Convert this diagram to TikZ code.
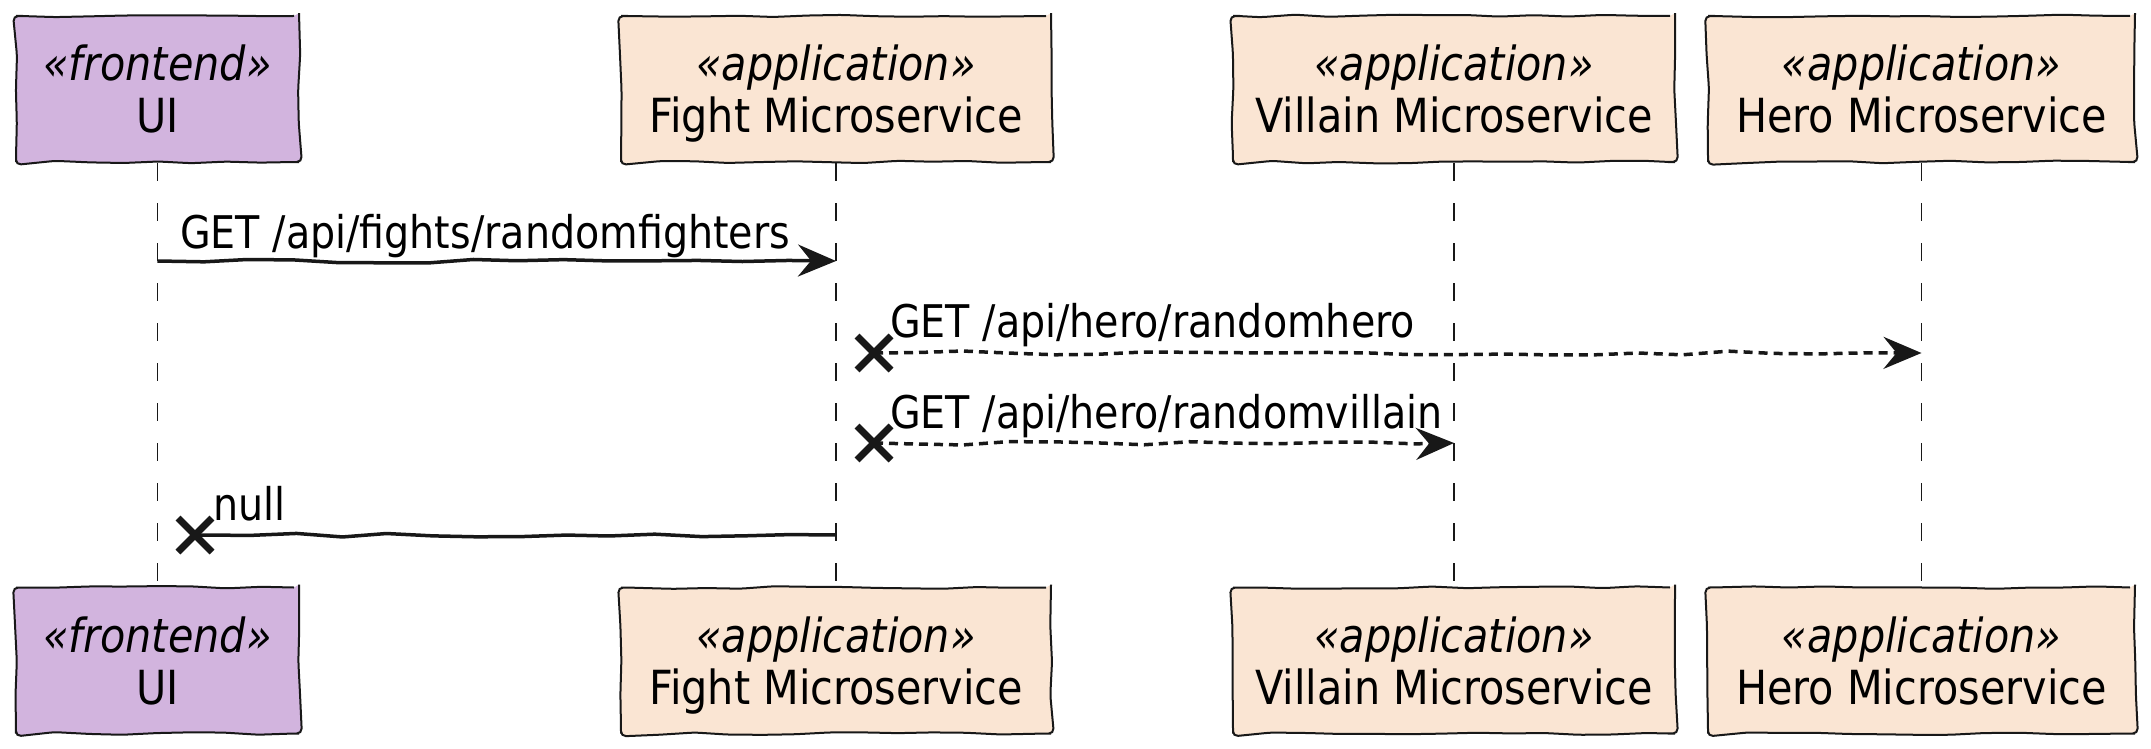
\documentclass[tikz,border=0pt]{standalone}
\usepackage{fontspec}
\setmainfont{DejaVu Sans}[FakeStretch=0.88]
\usetikzlibrary{arrows.meta,decorations.pathmorphing}
\definecolor{frontc}{HTML}{D2B4DE}
\definecolor{appc}{HTML}{FAE5D3}
\definecolor{ink}{HTML}{181818}
\tikzset{
  box/.style={draw=ink, line width=2pt, rounded corners=5pt, minimum height=146pt,
    inner sep=0pt, align=center, font=\fontsize{47}{52}\selectfont, text depth=-6pt,
    decorate, decoration={random steps, segment length=34pt, amplitude=1.4pt}},
  frontbox/.style={box, fill=frontc},
  appbox/.style={box, fill=appc},
  lifeline/.style={draw=ink, line width=1.8pt, dash pattern=on 18pt off 22pt},
  msg/.style={draw=ink, line width=3.5pt, line join=round,
    decorate, decoration={random steps, segment length=45pt, amplitude=2pt}},
  msgd/.style={msg, dash pattern=on 9pt off 6pt},
  tip/.style={-{Stealth[length=38pt,width=32pt,inset=13pt]}},
  cross/.style={draw=ink, line width=7pt},
  lbl/.style={anchor=base west, inner sep=0pt, font=\fontsize{45}{50}\selectfont}
}
\begin{document}
\begin{tikzpicture}[x=1pt,y=-1pt]
\pgfmathsetseed{11}
\useasboundingbox (0,0) rectangle (2151,749);
% participants (top)
\node[frontbox, minimum width=283pt] (ui) at (157.5,89) {\textit{«frontend»}\\UI};
\node[appbox, minimum width=430pt] (fight) at (836,89) {\textit{«application»}\\Fight Microservice};
\node[appbox, minimum width=442pt] (villain) at (1454,89) {\textit{«application»}\\Villain Microservice};
\node[appbox, minimum width=427pt] (hero) at (1921.5,89) {\textit{«application»}\\Hero Microservice};
% participants (bottom)
\node[frontbox, minimum width=283pt] (uib) at (157.5,660.5) {\textit{«frontend»}\\UI};
\node[appbox, minimum width=430pt] (fightb) at (836,660.5) {\textit{«application»}\\Fight Microservice};
\node[appbox, minimum width=442pt] (villainb) at (1454,660.5) {\textit{«application»}\\Villain Microservice};
\node[appbox, minimum width=427pt] (herob) at (1921.5,660.5) {\textit{«application»}\\Hero Microservice};
% lifelines
\draw[lifeline] (ui.south) -- (uib.north);
\draw[lifeline] (fight.south) -- (fightb.north);
\draw[lifeline] (villain.south) -- (villainb.north);
\draw[lifeline] (hero.south) -- (herob.north);
% rows
\coordinate (r1) at (0,261);
\coordinate (r2) at (0,353);
\coordinate (r3) at (0,443);
\coordinate (r4) at (0,535);
% message 1
\draw[msg, tip] (ui.south |- r1) -- (fight.south |- r1);
\node[lbl] (l1) at (180,248) {GET /api/fights/randomfighters};
% message 2
\coordinate (x2) at (874,353);
\draw[msgd, tip] (x2) -- (hero.south |- r2);
\draw[cross] ([shift={(-17,-17)}]x2) -- ([shift={(17,17)}]x2)
             ([shift={(-17,17)}]x2) -- ([shift={(17,-17)}]x2);
\node[lbl] (l2) at (890,337) {GET /api/hero/randomhero};
% message 3
\coordinate (x3) at (874,443);
\draw[msgd, tip] (x3) -- (villain.south |- r3);
\draw[cross] ([shift={(-17,-17)}]x3) -- ([shift={(17,17)}]x3)
             ([shift={(-17,17)}]x3) -- ([shift={(17,-17)}]x3);
\node[lbl] (l3) at (890,428) {GET /api/hero/randomvillain};
% message 4
\coordinate (x4) at (195,535);
\draw[msg] (fight.south |- r4) -- (x4);
\draw[cross] ([shift={(-17,-17)}]x4) -- ([shift={(17,17)}]x4)
             ([shift={(-17,17)}]x4) -- ([shift={(17,-17)}]x4);
\node[lbl] (l4) at (213,520) {null};
\end{tikzpicture}
\end{document}
